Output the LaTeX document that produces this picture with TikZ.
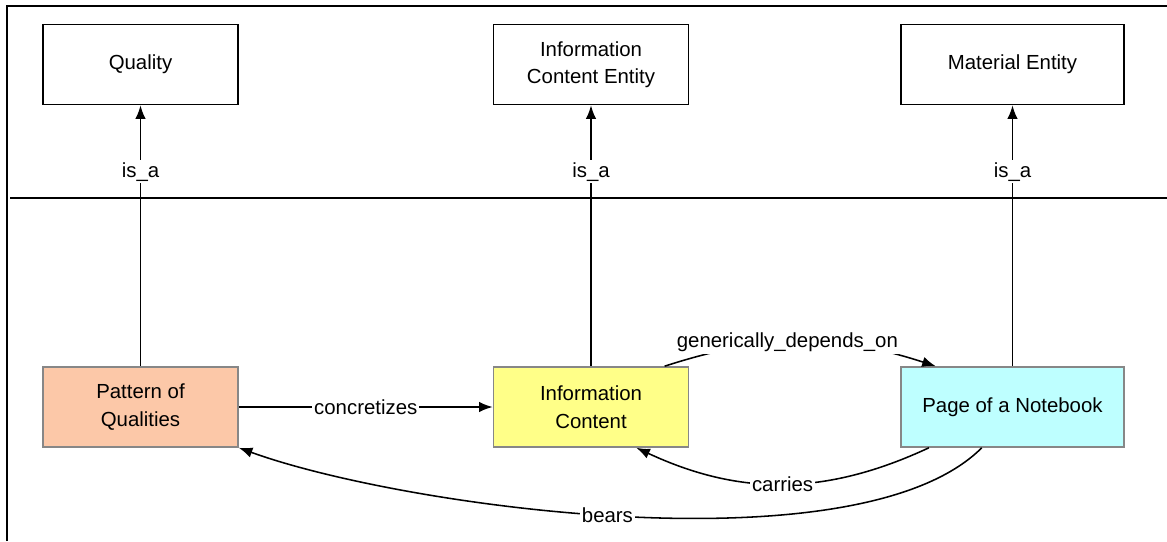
\documentclass[tikz,border=0pt]{standalone}
\usepackage{fontspec}
\setmainfont{Liberation Sans}
\usetikzlibrary{positioning, arrows.meta}

\definecolor{patternfill}{RGB}{252,200,168}
\definecolor{infofill}{RGB}{255,255,136}
\definecolor{pagefill}{RGB}{190,255,255}
\definecolor{edgegray}{RGB}{135,135,135}

\begin{document}
\begin{tikzpicture}[x=0.025cm, y=0.025cm, font=\fontsize{14.5}{19.5}\selectfont,
  box/.style={rectangle, minimum width=4.875cm, minimum height=2cm, align=center, draw, line width=1.1pt},
  lbl/.style={fill=white, inner sep=1.5pt},
  rel/.style={line width=1.1pt, -{Latex[length=0.34cm, width=0.26cm]}}]
\useasboundingbox (0,-541) rectangle (1167,0);
\draw[line width=1.3pt] (7,-541) -- (7,-6) -- (1167,-6);
\draw[line width=1.1pt] (10,-198) -- (1167,-198);
% upper level
\node[box] (quality) at (140.5,-64.5) {Quality};
\node[box] (ice) at (591,-64.5) {Information\\Content Entity};
\node[box, minimum width=5.575cm] (material) at (1012.5,-64.5) {Material Entity};
% lower level
\node[box, draw=edgegray, fill=patternfill] (pattern) at (140.5,-407) {Pattern of\\Qualities};
\node[box, draw=edgegray, fill=infofill] (info) at (591,-407) {Information\\Content};
\node[box, draw=edgegray, fill=pagefill, minimum width=5.575cm] (page) at (1012.5,-407) {Page of a Notebook};
% relations
\draw[rel] (pattern) -- node[lbl, pos=0.745] {is\_a} (quality);
\draw[rel] (info) -- node[lbl, pos=0.745] {is\_a} (ice);
\draw[rel] (page) -- node[lbl, pos=0.745] {is\_a} (material);
\draw[rel] (pattern) -- node[lbl] {concretizes} (info);
\draw[rel] (info.29) to[bend left=18] node[lbl, pos=0.45] {generically\_depends\_on} (page.152);
\draw[rel] (page.206) to[bend left=25] node[lbl] {carries} (info.318);
\draw[rel] (page.233) to[out=225, in=-20, looseness=0.6] node[lbl, pos=0.52] {bears} (pattern.south east);
\end{tikzpicture}
\end{document}
